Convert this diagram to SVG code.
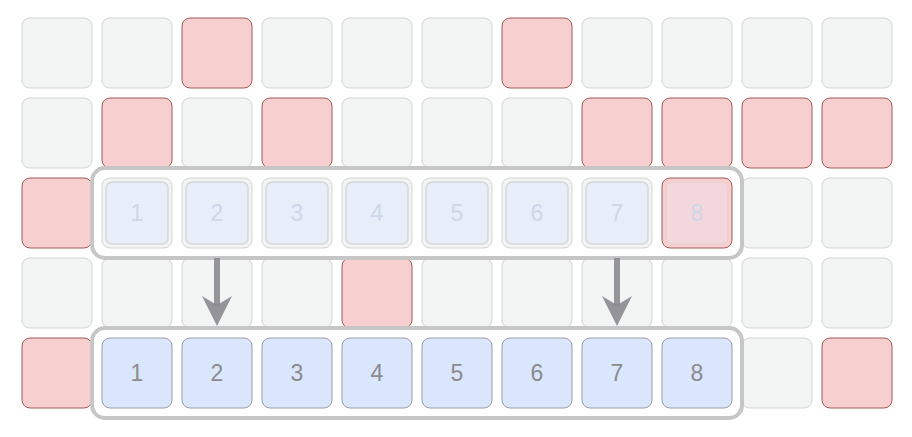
<svg xmlns="http://www.w3.org/2000/svg" width="912" height="437" viewBox="0 0 912 437">
<style>
.g{fill:#f3f5f5;stroke:#d2d4d4;stroke-width:1}
.r{fill:#f8cfcf;stroke:#9c5a5a;stroke-width:1}
.b{fill:#dae6fb;stroke:#9a9ca6;stroke-width:1}
.f{fill:#e6eefb;stroke:#d2d5d9;stroke-width:1.5;opacity:0.9}
.t{font-family:"Liberation Sans",Arial,sans-serif;font-size:23px;fill:#8a8b90;text-anchor:middle}
.ft{font-family:"Liberation Sans",Arial,sans-serif;font-size:23px;fill:#cdd6e8;text-anchor:middle}
.sel{fill:none;stroke:#c6c6c6;stroke-width:4}
.arr{stroke:#8a8a90;stroke-width:6;opacity:0.9}
.ah{fill:#8a8a90;opacity:0.9}
</style>
<rect width="912" height="437" fill="#ffffff"/>
<g id="row0">
<rect class="g" x="22" y="18" width="70" height="70" rx="8"/>
<rect class="g" x="102" y="18" width="70" height="70" rx="8"/>
<rect class="r" x="182" y="18" width="70" height="70" rx="8"/>
<rect class="g" x="262" y="18" width="70" height="70" rx="8"/>
<rect class="g" x="342" y="18" width="70" height="70" rx="8"/>
<rect class="g" x="422" y="18" width="70" height="70" rx="8"/>
<rect class="r" x="502" y="18" width="70" height="70" rx="8"/>
<rect class="g" x="582" y="18" width="70" height="70" rx="8"/>
<rect class="g" x="662" y="18" width="70" height="70" rx="8"/>
<rect class="g" x="742" y="18" width="70" height="70" rx="8"/>
<rect class="g" x="822" y="18" width="70" height="70" rx="8"/>
</g>
<g id="row1">
<rect class="g" x="22" y="98" width="70" height="70" rx="8"/>
<rect class="r" x="102" y="98" width="70" height="70" rx="8"/>
<rect class="g" x="182" y="98" width="70" height="70" rx="8"/>
<rect class="r" x="262" y="98" width="70" height="70" rx="8"/>
<rect class="g" x="342" y="98" width="70" height="70" rx="8"/>
<rect class="g" x="422" y="98" width="70" height="70" rx="8"/>
<rect class="g" x="502" y="98" width="70" height="70" rx="8"/>
<rect class="r" x="582" y="98" width="70" height="70" rx="8"/>
<rect class="r" x="662" y="98" width="70" height="70" rx="8"/>
<rect class="r" x="742" y="98" width="70" height="70" rx="8"/>
<rect class="r" x="822" y="98" width="70" height="70" rx="8"/>
</g>
<g id="row2">
<rect class="r" x="22" y="178" width="70" height="70" rx="8"/>
<rect class="g" x="102" y="178" width="70" height="70" rx="8"/>
<rect class="g" x="182" y="178" width="70" height="70" rx="8"/>
<rect class="g" x="262" y="178" width="70" height="70" rx="8"/>
<rect class="g" x="342" y="178" width="70" height="70" rx="8"/>
<rect class="g" x="422" y="178" width="70" height="70" rx="8"/>
<rect class="g" x="502" y="178" width="70" height="70" rx="8"/>
<rect class="g" x="582" y="178" width="70" height="70" rx="8"/>
<rect class="r" x="662" y="178" width="70" height="70" rx="8"/>
<rect class="g" x="742" y="178" width="70" height="70" rx="8"/>
<rect class="g" x="822" y="178" width="70" height="70" rx="8"/>
</g>
<g id="ghosts">
<rect class="f" x="106" y="182" width="62" height="62" rx="6"/><text class="ft" x="137" y="221">1</text>
<rect class="f" x="186" y="182" width="62" height="62" rx="6"/><text class="ft" x="217" y="221">2</text>
<rect class="f" x="266" y="182" width="62" height="62" rx="6"/><text class="ft" x="297" y="221">3</text>
<rect class="f" x="346" y="182" width="62" height="62" rx="6"/><text class="ft" x="377" y="221">4</text>
<rect class="f" x="426" y="182" width="62" height="62" rx="6"/><text class="ft" x="457" y="221">5</text>
<rect class="f" x="506" y="182" width="62" height="62" rx="6"/><text class="ft" x="537" y="221">6</text>
<rect class="f" x="586" y="182" width="62" height="62" rx="6"/><text class="ft" x="617" y="221">7</text>
<rect class="f" x="666" y="182" width="62" height="62" rx="6" style="opacity:0.3"/><text class="ft" x="697" y="221">8</text>
</g>
<g id="row3">
<rect class="g" x="22" y="258" width="70" height="70" rx="8"/>
<rect class="g" x="102" y="258" width="70" height="70" rx="8"/>
<rect class="g" x="182" y="258" width="70" height="70" rx="8"/>
<rect class="g" x="262" y="258" width="70" height="70" rx="8"/>
<rect class="r" x="342" y="258" width="70" height="70" rx="8"/>
<rect class="g" x="422" y="258" width="70" height="70" rx="8"/>
<rect class="g" x="502" y="258" width="70" height="70" rx="8"/>
<rect class="g" x="582" y="258" width="70" height="70" rx="8"/>
<rect class="g" x="662" y="258" width="70" height="70" rx="8"/>
<rect class="g" x="742" y="258" width="70" height="70" rx="8"/>
<rect class="g" x="822" y="258" width="70" height="70" rx="8"/>
</g>
<g id="row4">
<rect class="r" x="22" y="338" width="70" height="70" rx="8"/>
<rect class="b" x="102" y="338" width="70" height="70" rx="8"/><text class="t" x="137" y="381">1</text>
<rect class="b" x="182" y="338" width="70" height="70" rx="8"/><text class="t" x="217" y="381">2</text>
<rect class="b" x="262" y="338" width="70" height="70" rx="8"/><text class="t" x="297" y="381">3</text>
<rect class="b" x="342" y="338" width="70" height="70" rx="8"/><text class="t" x="377" y="381">4</text>
<rect class="b" x="422" y="338" width="70" height="70" rx="8"/><text class="t" x="457" y="381">5</text>
<rect class="b" x="502" y="338" width="70" height="70" rx="8"/><text class="t" x="537" y="381">6</text>
<rect class="b" x="582" y="338" width="70" height="70" rx="8"/><text class="t" x="617" y="381">7</text>
<rect class="b" x="662" y="338" width="70" height="70" rx="8"/><text class="t" x="697" y="381">8</text>
<rect class="g" x="742" y="338" width="70" height="70" rx="8"/>
<rect class="r" x="822" y="338" width="70" height="70" rx="8"/>
</g>
<g id="selections">
<rect class="sel" x="92" y="168" width="650" height="90" rx="13"/>
<rect class="sel" x="92" y="328" width="650" height="90" rx="13"/>
</g>
<g id="connectors">
<line class="arr" x1="217" y1="258" x2="217" y2="306"/>
<path class="ah" d="M217,326 L232,296 L217,305 L202,296 Z"/>
<line class="arr" x1="617" y1="258" x2="617" y2="306"/>
<path class="ah" d="M617,326 L632,296 L617,305 L602,296 Z"/>
</g>
</svg>
